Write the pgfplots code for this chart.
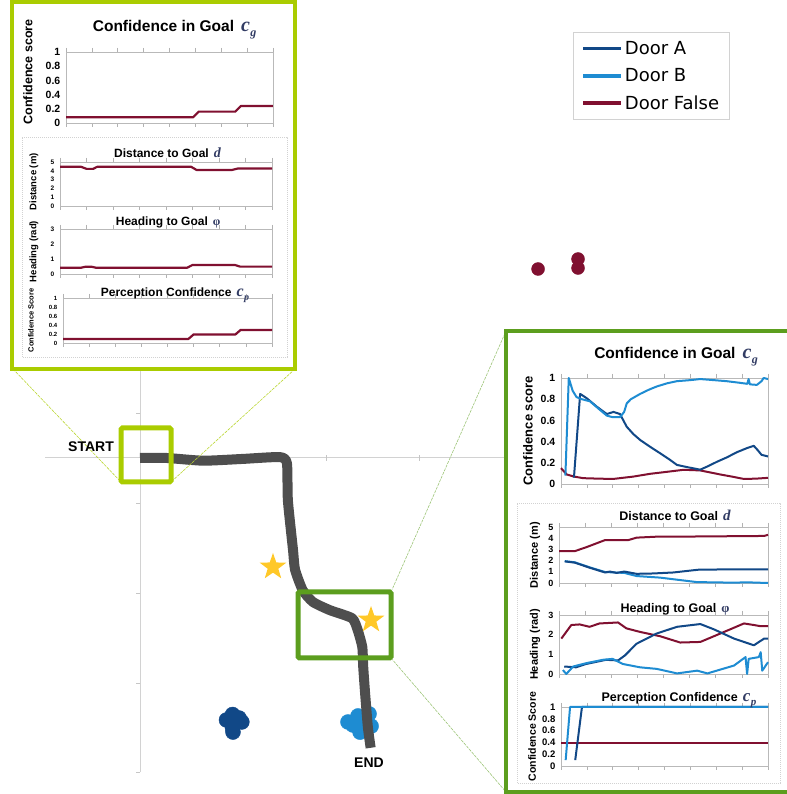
\documentclass[border=0pt]{standalone}
\usepackage{pgfplots}
\pgfplotsset{compat=1.18}
\usepackage{fontspec}
\setmainfont{Liberation Sans}
\newfontfamily\legfont{DejaVu Sans}
\newfontfamily\serif{Liberation Serif}
\definecolor{doorA}{RGB}{17,72,135}
\definecolor{doorB}{RGB}{30,140,210}
\definecolor{doorF}{RGB}{128,16,48}
\definecolor{lgreen}{RGB}{170,204,0}
\definecolor{dgreen}{RGB}{92,158,30}
\definecolor{starc}{RGB}{255,200,40}
\definecolor{traj}{RGB}{78,78,78}
\definecolor{symc}{RGB}{50,60,100}
\newcommand{\csub}[3]{{\color{symc}\serif\itshape\fontsize{#1}{#1}\selectfont c\kern0.5pt\raisebox{-0.22em}{\fontsize{#2}{#2}\selectfont #3}}}
\newcommand{\dsym}[1]{{\color{symc}\serif\itshape\fontsize{#1}{#1}\selectfont d}}
\newcommand{\phisym}[1]{{\color{symc}\serif\fontsize{#1}{#1}\selectfont φ}}
\newcommand{\fs}[1]{\fontsize{#1}{#1}\selectfont}
\pgfdeclareplotmark{fstar}{%
  \pgfpathmoveto{\pgfpointpolar{90}{\pgfplotmarksize}}%
  \pgfpathlineto{\pgfpointpolar{126}{0.4\pgfplotmarksize}}%
  \pgfpathlineto{\pgfpointpolar{162}{\pgfplotmarksize}}%
  \pgfpathlineto{\pgfpointpolar{198}{0.4\pgfplotmarksize}}%
  \pgfpathlineto{\pgfpointpolar{234}{\pgfplotmarksize}}%
  \pgfpathlineto{\pgfpointpolar{270}{0.4\pgfplotmarksize}}%
  \pgfpathlineto{\pgfpointpolar{306}{\pgfplotmarksize}}%
  \pgfpathlineto{\pgfpointpolar{342}{0.4\pgfplotmarksize}}%
  \pgfpathlineto{\pgfpointpolar{18}{\pgfplotmarksize}}%
  \pgfpathlineto{\pgfpointpolar{54}{0.4\pgfplotmarksize}}%
  \pgfpathclose\pgfusepathqfill}
\pgfplotsset{
  inset/.style={
    scale only axis, anchor=south west,
    xmin=0, xmax=8, xtick={0,...,8}, xticklabels={},
    tick align=outside, major tick length=4pt,
    axis line style={gray!55, line width=0.6pt},
    xtick style={gray!60, line width=0.6pt},
    ytick style={draw=none},
    clip=false, axis background/.style={fill=white},
    /pgf/number format/assume math mode=true,
    every axis title/.style={at={(axis description cs:0.5,1)}, anchor=base, font=\bfseries, inner sep=0pt},
    every axis y label/.style={at={(axis description cs:-0.15,0.5)}, rotate=90, anchor=center, font=\bfseries, inner sep=0pt},
    yticklabel style={inner sep=1.5pt},
    every axis plot/.append style={line join=round, no markers},
  },
}
\begin{document}
\begin{tikzpicture}
\useasboundingbox (0pt,0pt) rectangle (786pt,794pt);
% ---------------- map ----------------
\begin{axis}[at={(0pt,0pt)}, anchor=south west, scale only axis,
  width=786pt, height=794pt,
  xmin=-1.5054, xmax=6.9462, ymin=-3.7333, ymax=5.0889,
  hide axis, clip=false, clip mode=individual,
  legend style={at={(axis description cs:0.729,0.9597)}, anchor=north west,
    draw=gray!35, line width=0.8pt, font=\legfont\fs{18},
    inner xsep=8pt, inner ysep=7pt, row sep=8.5pt},
  legend cell align=left,
  legend image code/.code={\draw[#1, line width=3.5pt] (0pt,0pt) -- (38pt,0pt);},
]
\addlegendimage{color=doorA}\addlegendentry{Door A}
\addlegendimage{color=doorB}\addlegendentry{Door B}
\addlegendimage{color=doorF}\addlegendentry{Door False}
\draw[gray!35, line width=1pt] (axis cs:-1.02,0) -- (axis cs:3.92,0);
\draw[gray!35, line width=1pt] (axis cs:0,1.5) -- (axis cs:0,-3.49);
\draw[gray!45, line width=0.8pt] (axis cs:0,0.5) -- ++(-4pt,0pt);
\draw[gray!45, line width=0.8pt] (axis cs:0,-0.5) -- ++(-4pt,0pt);
\draw[gray!45, line width=0.8pt] (axis cs:0,-1.5) -- ++(-4pt,0pt);
\draw[gray!45, line width=0.8pt] (axis cs:0,-2.5) -- ++(-4pt,0pt);
\draw[gray!45, line width=0.8pt] (axis cs:0,-3.49) -- ++(-4pt,0pt);
\draw[gray!45, line width=0.8pt] (axis cs:1,0) ++(0pt,-3pt) -- ++(0pt,6pt);
\draw[gray!45, line width=0.8pt] (axis cs:2,0) ++(0pt,-3pt) -- ++(0pt,6pt);
\draw[gray!45, line width=0.8pt] (axis cs:3,0) ++(0pt,-3pt) -- ++(0pt,6pt);
\addplot[forget plot, only marks, mark=*, mark size=7.5pt, color=doorA, mark options={draw=none, fill=doorA}] coordinates {
 (0.93,-2.911) (1.065,-2.889) (0.995,-3.0) (1.095,-2.933) (0.995,-2.85) (1.0,-3.045) (1.02,-2.93)};
\addplot[forget plot, only marks, mark=*, mark size=7.5pt, color=doorB, mark options={draw=none, fill=doorB}] coordinates {
 (2.236,-2.933) (2.344,-2.866) (2.463,-2.843) (2.485,-2.979) (2.366,-3.046) (2.29,-2.967) (2.38,-2.95)};
\addplot[forget plot, only marks, mark=*, mark size=6.5pt, color=doorF, mark options={draw=none, fill=doorF}] coordinates {
 (4.280,2.100) (4.710,2.211) (4.710,2.111)};
\addplot[forget plot, color=traj, line width=10pt, line join=round, smooth, tension=0.35] coordinates {
 (0,0) (0.29,0) (0.68,-0.03) (1.11,-0.01) (1.505,0.01) (1.58,-0.06) (1.59,-0.47)
 (1.645,-1.02) (1.667,-1.24) (1.75,-1.47) (1.86,-1.6) (2.04,-1.69) (2.28,-1.78)
 (2.34,-1.91) (2.39,-2.1) (2.40,-2.32) (2.42,-2.61) (2.45,-2.99) (2.48,-3.22)};
\addplot[forget plot, only marks, mark=fstar, mark size=14pt, color=starc, mark options={fill=starc}] coordinates {
 (1.430,-1.211) (2.484,-1.8)};
\end{axis}
% connection lines and boxes
\draw[lgreen!80, line width=0.6pt, dash pattern=on 3pt off 1pt] (13pt,425pt) -- (121pt,312pt);
\draw[lgreen!80, line width=0.6pt, dash pattern=on 3pt off 1pt] (295pt,425pt) -- (171pt,312pt);
\draw[dgreen!60, line width=0.6pt, dash pattern=on 3pt off 1pt] (391pt,202pt) -- (506pt,463pt);
\draw[dgreen!60, line width=0.6pt, dash pattern=on 3pt off 1pt] (391pt,136pt) -- (506pt,2pt);
\draw[lgreen, line width=5pt, rounded corners=1.5pt] (121pt,312pt) rectangle (171pt,366pt);
\draw[dgreen, line width=5pt, rounded corners=1.5pt] (298pt,136pt) rectangle (391pt,202pt);
\node[anchor=base west, font=\bfseries\fs{14}, inner sep=0pt] at (68pt,342pt) {START};
\node[anchor=base west, font=\bfseries\fs{14}, inner sep=0pt] at (354pt,26pt) {END};
% ---------------- top-left panel ----------------
\draw[lgreen, line width=4pt, fill=white] (12pt,425pt) rectangle (295pt,792pt);
\draw[gray!35, line width=0.8pt, dash pattern=on 1pt off 1pt] (22pt,437pt) rectangle (287pt,657pt);
\begin{axis}[inset, at={(66pt,671pt)}, width=207pt, height=71pt,
  ymin=0, ymax=1, ytick={0,0.2,0.4,0.6,0.8,1},
  yticklabel style={font=\bfseries\fs{10.5}},
  title={\fs{15.5}Confidence in Goal\hspace{7pt}\csub{20}{12}{g}},
  title style={at={(axis description cs:0.525,1)}, yshift=20pt},
  ylabel={\fs{12.5}Confidence score},
  ylabel style={at={(axis description cs:-0.184,0.72)}},
]
\addplot[doorF, line width=2.2pt] coordinates {(0,0.08) (4.91,0.08) (5.13,0.16) (6.54,0.16) (6.76,0.24) (8,0.24)};
\end{axis}
\begin{axis}[inset, at={(60pt,588pt)}, width=212pt, height=44pt,
  ymin=0, ymax=5, ytick={0,1,2,3,4,5},
  yticklabel style={font=\bfseries\fs{6.5}},
  title={\fs{12}Distance to Goal\hspace{5pt}\dsym{14}},
  title style={at={(axis description cs:0.507,1)}, yshift=4pt},
  ylabel={\fs{9.5}Distance (m)},
  ylabel style={at={(axis description cs:-0.123,0.55)}},
]
\addplot[doorF, line width=2.2pt] coordinates {(0,4.45) (0.8,4.45) (1.0,4.22) (1.25,4.22) (1.4,4.45) (4.95,4.45) (5.15,4.1) (6.5,4.1) (6.7,4.25) (8,4.25)};
\end{axis}
\begin{axis}[inset, at={(60pt,520pt)}, width=212pt, height=45pt,
  ymin=0, ymax=3, ytick={0,1,2,3},
  yticklabel style={font=\bfseries\fs{6.5}},
  title={\fs{12}Heading to Goal\hspace{5pt}\phisym{12}},
  title style={at={(axis description cs:0.51,1)}, yshift=3pt},
  ylabel={\fs{9.5}Heading (rad)},
  ylabel style={at={(axis description cs:-0.123,0.5)}},
]
\addplot[doorF, line width=2.2pt] coordinates {(0,0.42) (0.8,0.42) (0.95,0.48) (1.2,0.48) (1.35,0.42) (4.8,0.42) (5.0,0.6) (6.6,0.6) (6.8,0.49) (8,0.49)};
\end{axis}
\begin{axis}[inset, at={(63pt,451pt)}, width=209pt, height=45pt,
  ymin=0, ymax=1, ytick={0,0.2,0.4,0.6,0.8,1},
  yticklabel style={font=\bfseries\fs{6}},
  title={\fs{12}Perception Confidence\hspace{5pt}\csub{16}{10}{p}},
  title style={at={(axis description cs:0.536,1)}, yshift=1pt},
  ylabel={\fs{7.5}Confidence Score},
  ylabel style={at={(axis description cs:-0.153,0.5)}},
]
\addplot[doorF, line width=2.2pt] coordinates {(0,0.09) (4.8,0.09) (5.0,0.19) (6.6,0.19) (6.8,0.29) (8,0.29)};
\end{axis}
% ---------------- right panel ----------------
\draw[dgreen, line width=4pt, fill=white] (506pt,2pt) rectangle (792pt,463pt);
\draw[gray!35, line width=0.8pt, dash pattern=on 1pt off 1pt] (517pt,11pt) rectangle (780pt,291pt);
\begin{axis}[inset, at={(561pt,310pt)}, width=207pt, height=106pt,
  ymin=0, ymax=1, ytick={0,0.2,0.4,0.6,0.8,1},
  yticklabel style={font=\bfseries\fs{10.5}},
  title={\fs{15.5}Confidence in Goal\hspace{7pt}\csub{20}{12}{g}},
  title style={at={(axis description cs:0.556,1)}, yshift=19pt},
  ylabel={\fs{13}Confidence score},
  ylabel style={at={(axis description cs:-0.159,0.5)}},
]
\addplot[doorF, line width=2pt] coordinates {(0,0.15) (0.22,0.09) (0.5,0.07) (0.86,0.055) (1.5,0.05) (2.03,0.048) (2.8,0.07) (3.44,0.096) (4.1,0.115) (4.74,0.134) (5.38,0.128) (6.15,0.09) (6.6,0.07) (7.06,0.048) (7.5,0.05) (8,0.058)};
\addplot[doorA, line width=2pt] coordinates {(0.5,0.06) (0.74,0.85) (0.99,0.81) (1.38,0.73) (1.77,0.66) (2.03,0.68) (2.28,0.66) (2.54,0.54) (2.8,0.47) (3.06,0.415) (3.45,0.35) (3.83,0.29) (4.2,0.23) (4.48,0.18) (4.86,0.16) (5.38,0.135) (5.7,0.17) (6.03,0.21) (6.4,0.25) (6.8,0.30) (7.2,0.34) (7.45,0.36) (7.6,0.32) (7.75,0.275) (8,0.26)};
\addplot[doorB, line width=2pt] coordinates {(0.17,0.08) (0.3,1.0) (0.45,0.88) (0.6,0.82) (0.8,0.8) (1.12,0.78) (1.5,0.70) (1.77,0.645) (2.0,0.63) (2.28,0.63) (2.44,0.68) (2.54,0.76) (2.7,0.8) (3.06,0.85) (3.4,0.89) (3.7,0.92) (4.1,0.95) (4.48,0.97) (5.0,0.98) (5.38,0.99) (5.9,0.98) (6.4,0.97) (6.9,0.955) (7.2,0.945) (7.25,0.99) (7.3,0.94) (7.57,0.935) (7.75,0.97) (7.83,1.0) (8,0.99)};
\end{axis}
\begin{axis}[inset, at={(559pt,211pt)}, width=209pt, height=56pt,
  ymin=0, ymax=5, ytick={0,1,2,3,4,5},
  yticklabel style={font=\bfseries\fs{9}},
  title={\fs{12.5}Distance to Goal\hspace{5pt}\dsym{15}},
  title style={at={(axis description cs:0.555,1)}, yshift=6pt},
  ylabel={\fs{11}Distance (m)},
  ylabel style={at={(axis description cs:-0.115,0.5)}},
]
\addplot[doorF, line width=2pt] coordinates {(0,2.84) (0.6,2.84) (1.05,3.2) (1.76,3.83) (2.65,3.83) (2.97,4.05) (3.87,4.15) (5.15,4.15) (7.85,4.2) (8,4.3)};
\addplot[doorB, line width=2pt] coordinates {(0.22,1.95) (0.6,1.85) (1.2,1.38) (1.76,0.98) (2.5,0.9) (2.97,0.62) (3.87,0.48) (4.5,0.3) (5.28,0.08) (6.68,0.03) (7.2,0.06) (8,0.0)};
\addplot[doorA, line width=2pt] coordinates {(0.22,1.93) (0.6,1.82) (1.18,1.36) (1.76,0.94) (1.95,1.02) (2.2,0.9) (2.5,1.02) (2.97,0.82) (3.6,0.85) (4.38,0.94) (5.15,1.14) (5.4,1.2) (8,1.22)};
\end{axis}
\begin{axis}[inset, at={(559pt,120pt)}, width=209pt, height=59pt,
  ymin=0, ymax=3, ytick={0,1,2,3},
  yticklabel style={font=\bfseries\fs{9}},
  title={\fs{12.5}Heading to Goal\hspace{5pt}\phisym{13}},
  title style={at={(axis description cs:0.555,1)}, yshift=2pt},
  ylabel={\fs{11}Heading (rad)},
  ylabel style={at={(axis description cs:-0.115,0.5)}},
]
\addplot[doorF, line width=2pt] coordinates {(0.09,1.8) (0.47,2.49) (0.79,2.52) (1.17,2.4) (1.55,2.57) (2.26,2.62) (2.58,2.32) (3.1,2.14) (3.87,1.92) (4.64,1.6) (5.41,1.63) (6.18,2.06) (7.08,2.57) (7.46,2.49) (7.72,2.43) (8,2.43)};
\addplot[doorA, line width=2pt] coordinates {(0.2,0.38) (0.65,0.34) (1.04,0.51) (1.8,0.72) (2.26,0.69) (2.52,0.94) (2.97,1.54) (3.74,2.06) (4.52,2.4) (5.41,2.54) (5.93,2.27) (6.7,1.8) (7.46,1.46) (7.85,1.8) (8,1.8)};
\addplot[doorB, line width=2pt] coordinates {(0.15,0.2) (0.28,0.0) (0.54,0.38) (1.04,0.55) (1.67,0.72) (2.05,0.77) (2.44,0.51) (3.1,0.34) (3.74,0.26) (4.52,0.03) (5.29,0.17) (5.68,0.03) (6.7,0.43) (7.14,0.86) (7.2,0.0) (7.26,0.77) (7.65,0.86) (7.72,1.11) (7.78,0.17) (8,0.6)};
\end{axis}
\begin{axis}[inset, at={(561pt,28pt)}, width=207pt, height=59pt,
  ymin=0, ymax=1, ytick={0,0.2,0.4,0.6,0.8,1},
  yticklabel style={font=\bfseries\fs{9.5}},
  title={\fs{12.5}Perception Confidence\hspace{5pt}\csub{17}{11}{p}},
  title style={at={(axis description cs:0.57,1)}, yshift=5pt},
  ylabel={\fs{10.5}Confidence Score},
  ylabel style={at={(axis description cs:-0.14,0.5)}},
]
\addplot[doorF, line width=2pt] coordinates {(0,0.39) (8,0.39)};
\addplot[doorA, line width=2pt] coordinates {(0.55,0.1) (0.81,1.0) (8,1.0)};
\addplot[doorB, line width=2pt] coordinates {(0.18,0.1) (0.35,1.0) (8,1.0)};
\end{axis}
\end{tikzpicture}
\end{document}
